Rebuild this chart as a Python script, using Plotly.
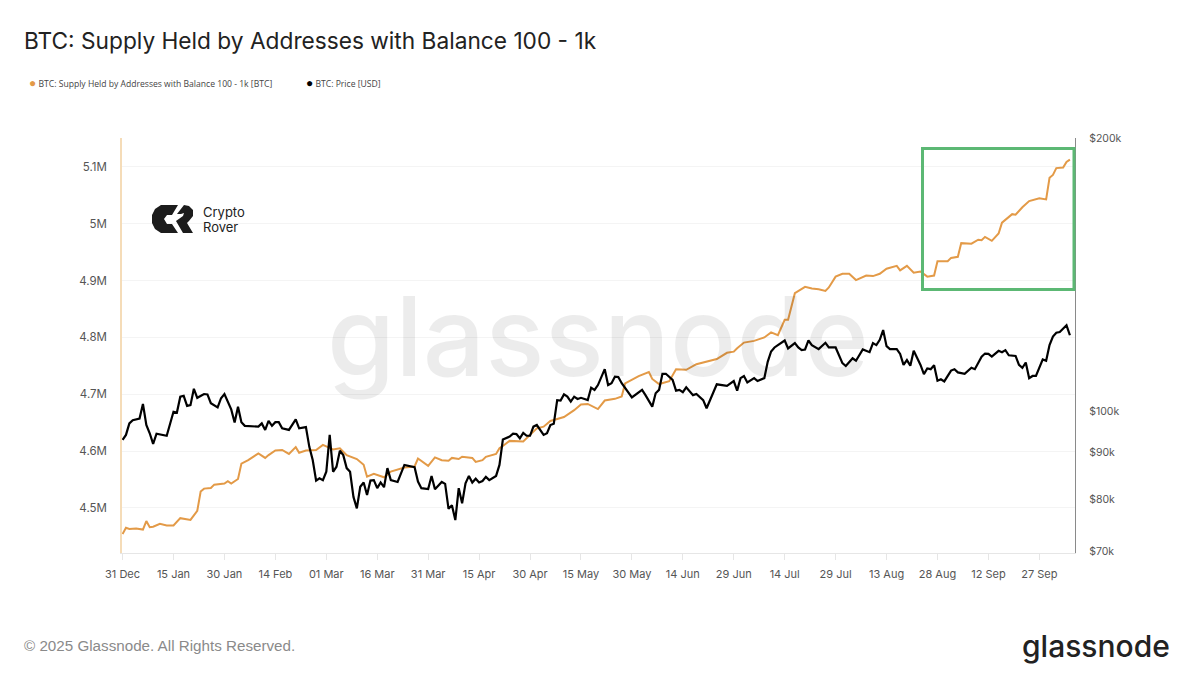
import pandas as pd
import plotly.graph_objects as go
from plotly.subplots import make_subplots

W, H = 1200, 680
# plot area in page pixels
L, R, T, B = 122, 1075, 138, 553

TITLE = "BTC: Supply Held by Addresses with Balance 100 - 1k"
SUPPLY_NAME = "BTC: Supply Held by Addresses with Balance 100 - 1k [BTC]"
PRICE_NAME = "BTC: Price [USD]"
ORANGE = "#e39a47"

START = pd.Timestamp("2024-12-31")

# days since 31 Dec, supply in thousands of BTC
supply_days = [0,1,2,4,6,7,8,9,11,13,15,17,20,22,23,24,26,27,30,31,32,34,35,37,40,42,43,45,47,49,51,52,54,57,59,62,64,66,69,71,72,74,77,79,83,86,87,90,92,94,96,97,99,100,103,104,106,107,110,111,112,114,118,120,122,124,126,130,133,135,137,140,142,145,147,148,150,152,155,156,158,161,163,166,169,172,175,178,180,181,183,186,189,191,193,195,196,198,200,201,203,205,207,208,210,212,214,216,219,221,223,225,228,229,231,233,235,237,239,240,243,244,246,247,250,252,253,254,256,258,259,261,262,263,265,267,270,272,273,274,275,277,278,279]
supply_k = [4454,4465,4463,4464,4462,4477,4466,4467,4472,4469,4469,4482,4479,4495,4529,4534,4535,4541,4543,4547,4543,4551,4578,4584,4596,4588,4593,4601,4602,4595,4607,4597,4601,4602,4611,4603,4605,4593,4586,4576,4555,4560,4554,4564,4571,4573,4587,4574,4589,4584,4583,4588,4586,4590,4588,4581,4584,4590,4595,4605,4609,4618,4617,4628,4640,4643,4653,4660,4672,4682,4683,4674,4689,4692,4696,4719,4726,4732,4739,4727,4718,4723,4744,4743,4753,4757,4762,4773,4775,4781,4791,4794,4800,4809,4804,4831,4831,4878,4885,4889,4886,4885,4882,4888,4907,4912,4912,4901,4909,4908,4912,4921,4926,4918,4926,4914,4916,4907,4909,4934,4934,4940,4942,4966,4965,4972,4971,4977,4970,4983,5002,5011,5017,5016,5029,5040,5045,5043,5081,5086,5098,5099,5109,5113]

# days since 31 Dec, price in thousands of USD
price_days = [0,1,2,3,5,6,7,8,9,10,13,14,15,16,17,18,19,20,21,22,24,25,26,28,29,30,32,33,34,35,36,40,41,42,43,44,45,46,47,49,51,52,54,55,56,57,58,59,60,61,62,63,64,65,66,67,68,69,70,71,72,73,74,75,76,77,78,79,81,83,86,87,88,90,91,92,94,95,96,97,98,99,100,101,102,103,104,105,106,107,108,110,111,112,114,115,116,117,118,119,120,121,122,124,125,126,127,128,129,130,131,132,133,134,135,137,138,139,140,142,143,144,145,146,147,150,152,153,154,156,157,158,159,160,162,163,164,165,166,168,169,171,172,174,175,178,180,181,182,183,184,186,187,189,190,191,192,193,195,196,198,199,200,201,202,203,205,207,208,210,211,212,213,215,216,218,220,221,222,223,224,225,226,228,229,230,231,232,233,234,235,236,237,238,239,240,241,242,244,245,246,248,250,251,253,254,255,256,258,259,260,261,263,264,265,266,267,268,269,271,272,273,274,275,276,278,279]
price_k = [92.9,94.1,96.9,97.7,98.1,101.8,96.5,94.5,92.0,94.4,93.9,96.5,99.8,99.6,103.7,103.9,101.3,101.5,105.8,103.4,104.4,104.3,102.0,100.9,103.3,104.4,100.4,97.1,101.1,97.2,96.3,96.1,96.9,95.3,97.5,96.3,97.2,97.2,95.7,95.3,97.9,95.7,96.0,91.3,88.3,83.8,84.3,83.9,85.7,94.1,85.7,86.8,90.4,89.4,86.5,85.7,80.4,78.1,82.5,83.4,80.8,83.8,83.9,82.2,83.4,82.4,86.5,83.9,83.5,87.2,86.7,83.6,82.2,82.0,84.8,82.0,83.5,83.1,78.0,78.7,75.8,82.2,79.1,83.2,84.8,83.4,84.2,83.4,83.7,84.6,83.9,84.8,87.2,93.0,93.7,94.4,94.3,93.3,94.6,93.9,93.9,96.1,96.5,94.1,94.5,96.5,96.8,102.8,102.7,104.3,103.7,102.4,103.7,103.1,103.4,102.8,106.1,105.5,106.8,111.2,106.8,107.3,109.1,109.0,107.3,103.5,105.0,105.5,104.1,101.1,104.6,105.5,109.9,109.9,108.2,105.3,105.5,104.9,106.2,104.1,104.4,102.8,100.7,105.0,107.0,106.6,107.9,105.3,108.7,109.3,107.5,108.7,107.9,108.7,113.3,116.3,117.5,118.2,119.6,117.2,118.8,117.5,116.7,116.9,119.6,118.2,117.0,118.9,117.5,117.5,115.3,112.9,112.1,114.3,113.6,116.9,116.1,118.8,118.2,119.8,122.8,117.9,117.0,117.0,115.6,112.4,113.8,112.2,116.5,114.6,112.4,109.8,111.4,111.2,112.3,108.0,108.4,107.8,110.8,111.2,110.3,109.9,111.6,111.2,114.8,115.7,115.6,114.8,116.5,116.1,116.7,115.2,115.0,112.4,111.6,113.1,108.7,109.3,109.3,114.0,113.6,118.2,120.8,122.0,122.2,124.3,121.2]

x_ticks = ["2024-12-31","2025-01-15","2025-01-30","2025-02-14","2025-03-01","2025-03-16","2025-03-31","2025-04-15","2025-04-30","2025-05-15","2025-05-30","2025-06-14","2025-06-29","2025-07-14","2025-07-29","2025-08-13","2025-08-28","2025-09-12","2025-09-27"]
left_ticks = [4500000,4600000,4700000,4800000,4900000,5000000,5100000]
left_labels = ["4.5M","4.6M","4.7M","4.8M","4.9M","5M","5.1M"]
right_ticks = [70000,80000,90000,100000,200000]
right_labels = ["$70k","$80k","$90k","$100k","$200k"]


def to_dates(days):
    return [START + pd.Timedelta(days=d) for d in days]


def px(x):
    return (x - L) / (R - L)


def py(y):
    return (B - y) / (B - T)


def path(points):
    return "M" + " L".join(f"{px(a):.5f},{py(b):.5f}" for a, b in points) + " Z"


fig = make_subplots(specs=[[{"secondary_y": True}]])

fig.add_trace(go.Scatter(x=to_dates(supply_days), y=[v * 1000 for v in supply_k], name=SUPPLY_NAME,
                         mode="lines", line=dict(color=ORANGE, width=2)), secondary_y=False)
fig.add_trace(go.Scatter(x=to_dates(price_days), y=[v * 1000 for v in price_k], name=PRICE_NAME,
                         mode="lines", line=dict(color="#000000", width=2.2)), secondary_y=True)

fig.update_xaxes(domain=[0, 1], range=[START - pd.Timedelta(hours=4), START + pd.Timedelta(hours=6732)],
                 tickvals=x_ticks, tickformat="%d %b", tickfont=dict(size=11, color="#555555"),
                 ticks="outside", ticklen=6, tickcolor="#e6e6e6", ticklabelstandoff=5, showgrid=False,
                 showline=True, linecolor="#e6e6e6", zeroline=False)
fig.update_yaxes(range=[4420700, 5151000], tickvals=left_ticks, ticktext=left_labels,
                 tickfont=dict(size=11.5, color="#555555"), ticks="outside", ticklen=11, tickcolor="rgba(0,0,0,0)",
                 showgrid=True, gridcolor="#f4f4f4", showline=True, linecolor="#f5dcb8", linewidth=1.5,
                 zeroline=False, secondary_y=False)
fig.update_yaxes(type="log", range=[4.8434, 5.301], tickvals=right_ticks, ticktext=right_labels,
                 tickfont=dict(size=10.5, color="#555555"), ticks="outside", ticklen=11, tickcolor="rgba(0,0,0,0)",
                 showgrid=False, showline=True, linecolor="#8a8a8a", linewidth=1.2,
                 zeroline=False, secondary_y=True)

shapes = [
    # highlight box
    dict(type="rect", xref="paper", yref="paper", x0=px(922.5), x1=px(1074), y0=py(289.5), y1=py(148.5),
         line=dict(color="#5cb874", width=3)),
    # Crypto Rover mark
    dict(type="path", xref="paper", yref="paper", fillcolor="#1c1c1c", line=dict(width=0),
         path=path([(161,205),(178,205),(172,215),(167,215),(164,219),(167,224),(172,224),(178,233),(161,233),
                    (155,229),(152,223),(152,215),(155,209)])),
    dict(type="path", xref="paper", yref="paper", fillcolor="#1c1c1c", line=dict(width=0),
         path=path([(184,205),(189,206),(193,210),(193,216),(189,221),(187,223),(193,233),(183,233),(176,221),
                    (183,216),(184,213),(181,214),(177,214)])),
]

text = dict(xref="paper", yref="paper", showarrow=False, xanchor="left", yanchor="middle")
annotations = [
    dict(text="glassnode", x=px(325), y=py(336), font=dict(family="Inter", size=110, weight=500, color="rgba(0,0,0,0.075)"), **text),
    dict(text=TITLE, x=px(22), y=py(41), font=dict(family="Inter", size=22.7, color="#222222"), **text),
    dict(text=f"<span style='color:{ORANGE};font-size:12px'>●</span> {SUPPLY_NAME}", x=px(27), y=py(82.5),
         font=dict(family="Open Sans", size=8.6, color="#444444"), **text),
    dict(text=f"<span style='color:#000000;font-size:12px'>●</span> {PRICE_NAME}", x=px(304), y=py(82.5),
         font=dict(family="Open Sans", size=8.6, color="#444444"), **text),
    dict(text="Crypto", x=px(201), y=py(212), font=dict(family="Inter", size=13, color="#222222"), **text),
    dict(text="Rover", x=px(201), y=py(227), font=dict(family="Inter", size=13, color="#222222"), **text),
    dict(text="© 2025 Glassnode. All Rights Reserved.", x=px(22), y=py(645),
         font=dict(family="Liberation Sans", size=15.2, color="#8a8a8a"), **text),
    dict(text="glassnode", x=px(1020), y=py(646), font=dict(family="Inter", size=30, weight=500, color="#222222"), **text),
]

fig.update_layout(width=W, height=H, showlegend=False, plot_bgcolor="white", paper_bgcolor="white",
                  font=dict(family="Inter"), margin=dict(l=L, r=W - R, t=T, b=H - B),
                  shapes=shapes, annotations=annotations)

fig.write_html("out.html", post_script="document.body.style.margin='0';",
               config={"displayModeBar": False})
